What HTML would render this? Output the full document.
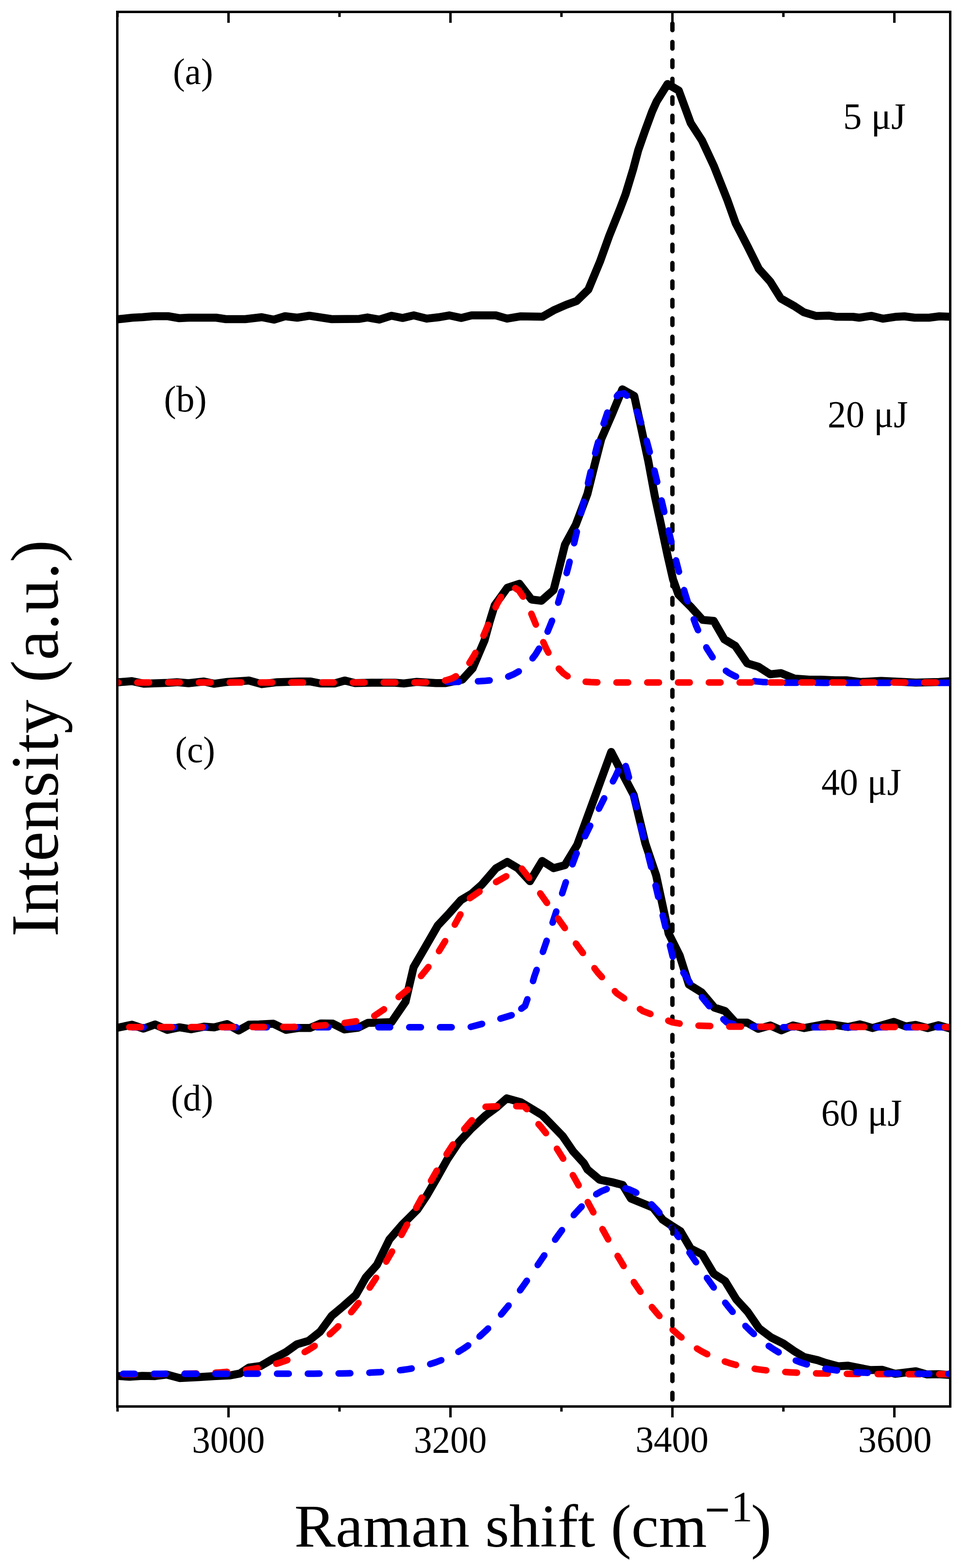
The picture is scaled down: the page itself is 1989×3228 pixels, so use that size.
<!DOCTYPE html>
<html><head><meta charset="utf-8"><title>Raman spectra</title><style>html,body{margin:0;padding:0;background:#fff;overflow:hidden}svg{display:block}</style></head><body>
<svg width="1989" height="3228" viewBox="0 0 1989 3228">
<rect width="1989" height="3228" fill="#fff"/>
<defs><clipPath id="cp"><rect x="244" y="27" width="1710" height="2866"/></clipPath></defs>
<g clip-path="url(#cp)">
<polyline points="241.0,657.5 273.0,654.0 293.0,653.0 316.0,651.0 346.0,651.0 369.0,655.0 389.0,654.0 445.0,654.0 465.0,657.0 505.0,657.0 539.0,653.0 564.0,658.0 587.0,651.0 612.0,654.0 637.0,650.0 683.0,657.0 740.0,656.4 756.5,653.6 781.0,657.9 806.0,650.0 829.0,654.6 852.0,649.3 879.0,655.9 902.0,653.3 925.0,649.3 950.0,654.6 971.0,649.3 1021.0,649.3 1044.0,655.9 1071.0,651.3 1117.0,652.0 1140.0,638.8 1165.7,627.5 1187.1,619.8 1211.5,596.0 1235.3,538.7 1254.3,485.8 1275.5,432.9 1288.0,400.0 1303.7,348.4 1314.3,308.7 1328.2,269.0 1342.8,229.4 1352.0,208.9 1374.5,173.0 1397.6,186.4 1422.1,253.2 1445.3,288.9 1470.0,342.0 1497.6,411.6 1514.8,459.7 1539.7,507.9 1562.4,553.5 1586.2,580.1 1607.7,614.5 1636.6,630.8 1655.0,642.9 1680.8,650.6 1707.7,649.8 1720.4,651.9 1756.4,652.3 1769.1,654.0 1794.5,650.2 1817.8,656.1 1843.2,652.3 1862.2,651.3 1883.4,654.0 1913.0,654.0 1934.2,651.3 1957.0,652.0" fill="none" stroke="#000" stroke-width="16.5" stroke-linejoin="round" stroke-linecap="round"/>
<polyline points="240.0,1404.9 271.7,1402.3 296.9,1407.6 345.8,1405.7 364.3,1404.4 388.1,1406.5 419.9,1403.0 441.0,1407.6 467.5,1403.9 512.5,1401.0 539.0,1408.4 570.7,1404.4 615.7,1403.0 638.5,1402.9 659.7,1407.0 688.8,1407.0 710.0,1401.0 731.0,1406.3 765.5,1405.5 813.0,1405.5 831.6,1407.0 858.0,1403.7 897.8,1406.3 916.3,1406.3 951.9,1399.1 973.1,1375.9 988.5,1339.8 997.6,1318.5 1008.3,1279.6 1018.5,1246.3 1044.4,1210.2 1069.4,1201.9 1094.4,1234.3 1114.8,1236.7 1139.8,1214.8 1148.6,1180.0 1163.2,1121.4 1185.6,1080.1 1209.6,1016.5 1224.3,957.1 1238.0,903.8 1260.4,852.2 1281.4,801.5 1306.0,815.3 1320.0,880.0 1335.0,950.0 1348.0,1020.0 1361.0,1080.0 1374.4,1143.0 1385.7,1192.4 1396.9,1223.9 1423.9,1250.9 1446.4,1276.1 1469.6,1278.3 1491.4,1316.1 1513.9,1329.6 1538.6,1365.6 1561.1,1372.3 1585.8,1388.1 1608.3,1385.8 1635.7,1396.9 1666.7,1399.3 1690.5,1399.3 1719.0,1400.5 1742.9,1400.5 1771.4,1404.0 1814.3,1401.7 1861.9,1404.0 1885.7,1405.2 1933.3,1404.0 1957.0,1402.4" fill="none" stroke="#000" stroke-width="16.5" stroke-linejoin="round" stroke-linecap="round"/>
<polyline points="240.0,2116.2 271.7,2109.6 295.6,2117.6 319.4,2109.1 344.5,2120.2 369.6,2114.9 393.4,2118.9 419.9,2113.6 441.0,2114.9 467.5,2108.3 491.3,2121.5 512.5,2109.6 533.7,2109.1 562.7,2107.5 589.2,2120.2 615.7,2116.2 638.0,2116.3 660.5,2106.9 685.2,2107.3 708.8,2119.2 736.9,2115.9 757.2,2105.8 806.2,2104.2 835.0,2062.0 851.6,1991.1 875.2,1950.6 901.3,1905.4 925.5,1879.6 949.3,1852.8 971.1,1839.9 991.9,1821.4 1021.1,1787.7 1044.5,1774.4 1066.3,1787.3 1091.2,1814.1 1116.3,1772.4 1139.8,1787.3 1163.1,1781.1 1188.5,1739.4 1211.3,1677.1 1233.5,1616.5 1258.5,1548.0 1277.0,1583.9 1304.8,1636.7 1328.9,1736.7 1351.1,1802.4 1367.8,1880.0 1376.7,1921.7 1399.5,1967.3 1418.4,2026.8 1444.2,2042.7 1471.0,2074.4 1492.8,2081.4 1514.6,2105.2 1538.4,2105.2 1561.2,2118.1 1586.0,2111.1 1608.8,2121.1 1632.7,2111.1 1656.0,2116.4 1703.2,2107.7 1745.9,2114.2 1770.7,2108.8 1796.5,2116.4 1840.4,2103.8 1865.1,2113.1 1885.3,2109.9 1910.1,2116.4 1932.6,2110.6 1957.0,2117.6" fill="none" stroke="#000" stroke-width="16.5" stroke-linejoin="round" stroke-linecap="round"/>
<polyline points="240.0,2832.4 266.5,2834.3 293.0,2832.4 319.4,2832.9 343.2,2829.8 369.6,2836.9 409.3,2835.1 441.0,2833.0 472.8,2831.6 494.0,2827.7 512.5,2815.5 536.3,2812.3 562.7,2797.0 587.8,2784.2 611.6,2767.3 635.4,2760.4 659.2,2741.5 683.0,2708.8 706.8,2689.0 732.6,2666.2 753.5,2629.4 776.3,2603.7 801.8,2551.7 827.6,2521.9 859.4,2490.2 879.2,2460.4 901.0,2422.7 920.9,2387.0 944.7,2351.3 970.5,2323.5 999.8,2296.4 1022.7,2279.5 1043.5,2261.1 1072.3,2269.2 1093.1,2281.5 1116.5,2295.8 1130.8,2310.3 1158.6,2339.0 1180.4,2370.8 1202.2,2394.6 1209.8,2407.8 1234.6,2428.6 1259.4,2433.6 1282.2,2439.5 1299.0,2467.3 1322.9,2477.2 1344.7,2486.2 1364.5,2511.0 1382.4,2522.9 1401.2,2534.8 1422.1,2570.5 1445.9,2582.4 1469.6,2622.3 1492.9,2637.1 1516.2,2675.2 1539.5,2700.6 1562.8,2734.5 1588.1,2753.5 1613.5,2766.2 1634.7,2781.1 1655.9,2793.8 1683.4,2800.1 1700.0,2805.8 1725.8,2812.7 1746.4,2811.5 1791.1,2820.4 1816.9,2820.1 1842.7,2828.2 1885.7,2823.0 1908.1,2829.4 1932.2,2829.0 1957.0,2830.7" fill="none" stroke="#000" stroke-width="16.5" stroke-linejoin="round" stroke-linecap="round"/>
<polyline points="236.0,2829.1 247.4,2829.1 258.8,2829.1 270.2,2829.0 281.6,2829.0 293.0,2828.9 304.4,2828.9 315.8,2828.8 327.2,2828.7 338.6,2828.6 350.0,2828.5 361.4,2828.3 372.8,2828.2 384.2,2828.0 395.6,2827.7 407.0,2827.4 418.4,2827.0 429.8,2826.6 441.2,2826.0 452.6,2825.4 464.0,2824.6 475.4,2823.7 486.8,2822.7 498.2,2821.4 509.6,2820.0 521.0,2818.2 532.4,2816.3 543.8,2814.0 555.2,2811.3 566.6,2808.2 578.0,2804.7 589.4,2800.8 600.8,2796.2 612.2,2791.1 623.6,2785.4 635.0,2779.0 646.4,2771.8 657.8,2763.9 669.2,2755.1 680.6,2745.4 692.0,2734.9 703.4,2723.4 714.8,2711.0 726.2,2697.7 737.6,2683.3 749.0,2668.0 760.4,2651.8 771.8,2634.7 783.2,2616.8 794.6,2598.1 806.0,2578.7 817.4,2558.7 828.8,2538.3 840.2,2517.5 851.6,2496.5 863.0,2475.4 874.4,2454.5 885.8,2433.9 897.2,2413.7 908.6,2394.2 920.0,2375.5 931.4,2357.9 942.8,2341.5 954.2,2326.5 965.6,2313.0 979.4,2297.7 1000.0,2278.5 1040.0,2277.0 1079.0,2277.5 1092.0,2291.0 1102.4,2307.0 1113.8,2319.7 1125.2,2334.0 1136.6,2349.7 1148.0,2366.8 1159.4,2385.0 1170.8,2404.1 1182.2,2423.9 1193.6,2444.3 1205.0,2465.1 1216.4,2486.1 1227.8,2507.1 1239.2,2528.0 1250.6,2548.6 1262.0,2568.8 1273.4,2588.4 1284.8,2607.4 1296.2,2625.7 1307.6,2643.2 1319.0,2659.8 1330.4,2675.5 1341.8,2690.3 1353.2,2704.1 1364.6,2716.9 1376.0,2728.8 1387.4,2739.8 1398.8,2749.9 1410.2,2759.0 1421.6,2767.4 1433.0,2774.9 1444.4,2781.7 1455.8,2787.7 1467.2,2793.2 1478.6,2798.0 1490.0,2802.2 1501.4,2805.9 1512.8,2809.2 1524.2,2812.1 1535.6,2814.5 1547.0,2816.7 1558.4,2818.6 1569.8,2820.1 1581.2,2821.5 1592.6,2822.7 1604.0,2823.7 1615.4,2824.5 1626.8,2825.2 1638.2,2825.8 1649.6,2826.3 1661.0,2826.7 1672.4,2827.1 1683.8,2827.4 1695.2,2827.6 1706.6,2827.8 1718.0,2828.0 1729.4,2828.2 1740.8,2828.3 1752.2,2828.4 1763.6,2828.5 1775.0,2828.5 1786.4,2828.6 1797.8,2828.7 1809.2,2828.7 1820.6,2828.8 1832.0,2828.8 1843.4,2828.8 1854.8,2828.9 1866.2,2828.9 1877.6,2828.9 1889.0,2828.9 1900.4,2829.0 1911.8,2829.0 1923.2,2829.0 1934.6,2829.0 1946.0,2829.1 1957.4,2829.1" fill="none" stroke="#ff0000" stroke-width="13.5" stroke-linejoin="round" stroke-linecap="round" stroke-dasharray="24.0 39.40" stroke-dashoffset="45.85"/>
<polyline points="236.0,2828.2 247.4,2828.2 258.8,2828.2 270.2,2828.2 281.6,2828.2 293.0,2828.2 304.4,2828.2 315.8,2828.2 327.2,2828.2 338.6,2828.2 350.0,2828.2 361.4,2828.2 372.8,2828.2 384.2,2828.2 395.6,2828.2 407.0,2828.2 418.4,2828.2 429.8,2828.2 441.2,2828.2 452.6,2828.2 464.0,2828.2 475.4,2828.2 486.8,2828.2 498.2,2828.2 509.6,2828.1 521.0,2828.1 532.4,2828.1 543.8,2828.1 555.2,2828.1 566.6,2828.1 578.0,2828.1 589.4,2828.1 600.8,2828.0 612.2,2828.0 623.6,2828.0 635.0,2827.9 646.4,2827.9 657.8,2827.8 669.2,2827.8 680.6,2827.7 692.0,2827.5 703.4,2827.4 714.8,2827.2 726.2,2827.0 737.6,2826.7 749.0,2826.3 760.4,2825.9 771.8,2825.3 783.2,2824.7 794.6,2823.8 806.0,2822.9 817.4,2821.7 828.8,2820.2 840.2,2818.6 851.6,2816.6 863.0,2814.2 874.4,2811.4 885.8,2808.2 897.2,2804.5 908.6,2800.2 920.0,2795.4 931.4,2789.8 942.8,2783.6 954.2,2776.6 965.6,2768.7 976.0,2760.8" fill="none" stroke="#0000ff" stroke-width="13.5" stroke-linejoin="round" stroke-linecap="round" stroke-dasharray="24.0 39.40" stroke-dashoffset="45.93"/>
<polyline points="976.0,2760.8 977.0,2760.1 988.4,2750.5 999.8,2740.1 1011.2,2728.8 1022.6,2716.7 1034.0,2703.6 1045.4,2689.8 1056.8,2675.2 1068.2,2660.0 1079.6,2644.1 1091.0,2627.9 1102.4,2611.3 1113.8,2594.5 1125.2,2577.8 1136.6,2561.2 1148.0,2545.0 1159.4,2529.4 1170.8,2514.5 1182.2,2500.6 1193.6,2487.9 1205.0,2476.5 1216.4,2466.6 1227.8,2458.4 1239.2,2451.9 1250.6,2447.3 1262.0,2444.7 1273.4,2444.1 1284.8,2445.5 1296.2,2448.8 1307.6,2453.9 1319.0,2460.9 1330.4,2469.6 1341.8,2479.8 1353.2,2491.5 1364.6,2504.4 1376.0,2518.4 1387.4,2533.3 1398.8,2548.9 1410.2,2565.1 1421.6,2581.5 1433.0,2598.2 1444.4,2614.7 1455.8,2631.1 1467.2,2647.2 1478.6,2662.8 1490.0,2677.8 1501.4,2692.2 1512.8,2705.8 1524.2,2718.6 1535.6,2730.5 1547.0,2741.6 1558.4,2751.9 1569.8,2761.3 1581.2,2769.8 1592.6,2777.5 1604.0,2784.4 1615.4,2790.6 1626.8,2796.0 1638.2,2800.8 1649.6,2805.1 1661.0,2808.7 1672.4,2811.9 1683.8,2814.6 1695.2,2817.0 1706.6,2819.0 1718.0,2820.6 1729.4,2822.1 1740.8,2823.2 1752.2,2824.2 1763.6,2825.0 1775.0,2825.7 1786.4,2826.2 1797.8,2826.7 1809.2,2827.0 1820.6,2827.3 1832.0,2827.5 1843.4,2827.7 1854.8,2827.9 1866.2,2828.0 1877.6,2828.1 1889.0,2828.1 1900.4,2828.2 1911.8,2828.2 1923.2,2828.3 1934.6,2828.3 1946.0,2828.3 1957.4,2828.3" fill="none" stroke="#0000ff" stroke-width="13.5" stroke-linejoin="round" stroke-linecap="round" stroke-dasharray="24.0 39.40" stroke-dashoffset="48.56"/>
<line x1="1384.5" y1="48.5" x2="1384.5" y2="745" stroke="#000" stroke-width="9" stroke-linecap="round" stroke-dasharray="13.6 24.33"/>
<line x1="1384.5" y1="738.4" x2="1384.5" y2="1462.4" stroke="#000" stroke-width="9" stroke-linecap="round" stroke-dasharray="13.6 24.30"/>
<line x1="1384.5" y1="1486.5" x2="1384.5" y2="2174.3" stroke="#000" stroke-width="9" stroke-linecap="round" stroke-dasharray="13.6 24.30"/>
<line x1="1384.5" y1="2184.4" x2="1384.5" y2="2881.3" stroke="#000" stroke-width="9" stroke-linecap="round" stroke-dasharray="13.6 24.35"/>
<polyline points="920.8,1404.0 931.4,1403.9 942.8,1403.7 954.2,1403.5 965.6,1403.2 977.0,1402.8 988.4,1402.3 999.8,1401.5 1011.2,1400.4 1022.6,1398.8 1034.0,1396.5 1045.4,1393.2 1056.8,1388.6 1068.2,1382.2 1079.6,1373.7 1091.0,1362.4 1102.4,1347.7 1113.8,1329.1 1125.2,1306.0 1136.6,1278.1 1148.0,1245.1 1159.4,1207.1 1170.8,1164.5 1182.2,1118.2 1193.6,1069.2 1205.0,1019.1 1216.4,970.0 1227.8,923.8 1239.2,882.9 1250.6,849.3 1262.0,825.1 1273.4,811.7 1284.8,809.8 1296.2,818.9 1307.6,838.3 1319.0,866.9 1330.4,903.3 1341.8,945.6 1353.2,992.0 1364.6,1040.4 1376.0,1089.0 1387.4,1136.0 1398.8,1180.2 1410.2,1220.6 1421.6,1256.4 1433.0,1287.5 1444.4,1313.8 1455.8,1335.5 1467.2,1353.1 1478.6,1367.0 1490.0,1377.7 1501.4,1385.8 1512.8,1391.8 1524.2,1396.2 1535.6,1399.3 1547.0,1401.5 1558.4,1402.9 1569.8,1403.9 1581.2,1404.6 1592.6,1405.0 1604.0,1405.3 1615.4,1405.4 1626.8,1405.5 1638.2,1405.6 1649.6,1405.6 1661.0,1405.6 1672.4,1405.6 1683.8,1405.6 1695.2,1405.7 1706.6,1405.7 1718.0,1405.7 1729.4,1405.7 1740.8,1405.7 1752.2,1405.7 1763.6,1405.7 1775.0,1405.7 1786.4,1405.7 1797.8,1405.7 1809.2,1405.7 1820.6,1405.7 1832.0,1405.7 1843.4,1405.7 1854.8,1405.7 1866.2,1405.7 1877.6,1405.7 1889.0,1405.7 1900.4,1405.7 1911.8,1405.7 1923.2,1405.7 1934.6,1405.7 1946.0,1405.7 1957.4,1405.7" fill="none" stroke="#0000ff" stroke-width="13.5" stroke-linejoin="round" stroke-linecap="round" stroke-dasharray="24.0 39.40" stroke-dashoffset="0.00"/>
<polyline points="236.0,1405.0 247.4,1405.0 258.8,1405.0 270.2,1405.0 281.6,1405.0 293.0,1405.0 304.4,1405.0 315.8,1405.0 327.2,1405.0 338.6,1405.0 350.0,1405.0 361.4,1405.0 372.8,1405.0 384.2,1405.0 395.6,1405.0 407.0,1405.0 418.4,1405.0 429.8,1405.0 441.2,1405.0 452.6,1405.0 464.0,1405.0 475.4,1405.0 486.8,1405.0 498.2,1405.0 509.6,1405.0 521.0,1405.0 532.4,1405.0 543.8,1405.0 555.2,1405.0 566.6,1405.0 578.0,1405.0 589.4,1405.0 600.8,1405.0 612.2,1405.0 623.6,1405.0 635.0,1405.0 646.4,1405.0 657.8,1405.0 669.2,1405.0 680.6,1405.0 692.0,1405.0 703.4,1405.0 714.8,1405.0 726.2,1405.0 737.6,1405.0 749.0,1405.0 760.4,1405.0 771.8,1405.0 783.2,1405.0 794.6,1405.0 806.0,1405.0 817.4,1405.0 828.8,1405.0 840.2,1405.0 851.6,1405.0 863.0,1404.9 874.4,1404.8 885.8,1404.4 897.2,1403.8 908.6,1402.5 920.0,1400.2 931.4,1396.3 942.8,1389.9 954.2,1380.2 965.6,1366.3 977.0,1347.8 988.4,1324.8 999.8,1298.6 1011.2,1271.0 1022.6,1245.2 1034.0,1224.2 1045.4,1211.2 1056.8,1208.1 1068.2,1215.5 1079.6,1232.3 1091.0,1256.1 1102.4,1283.5 1113.8,1311.1 1125.2,1336.3 1136.6,1357.5 1148.0,1373.8 1159.4,1385.7 1170.8,1393.7 1182.2,1398.7 1193.6,1401.7 1205.0,1403.4 1216.4,1404.2 1227.8,1404.7 1239.2,1404.9 1250.6,1405.0 1262.0,1405.0 1273.4,1405.0 1284.8,1405.0 1296.2,1405.0 1307.6,1405.0 1319.0,1405.0 1330.4,1405.0 1341.8,1405.0 1353.2,1405.0 1364.6,1405.0 1376.0,1405.0 1387.4,1405.0 1398.8,1405.0 1410.2,1405.0 1421.6,1405.0 1433.0,1405.0 1444.4,1405.0 1455.8,1405.0 1467.2,1405.0 1478.6,1405.0 1490.0,1405.0 1501.4,1405.0 1512.8,1405.0 1524.2,1405.0 1535.6,1405.0 1547.0,1405.0 1558.4,1405.0 1569.8,1405.0 1581.2,1405.0 1592.6,1405.0 1604.0,1405.0 1615.4,1405.0 1626.8,1405.0 1638.2,1405.0 1649.6,1405.0 1661.0,1405.0 1672.4,1405.0 1683.8,1405.0 1695.2,1405.0 1706.6,1405.0 1718.0,1405.0 1729.4,1405.0 1740.8,1405.0 1752.2,1405.0 1763.6,1405.0 1775.0,1405.0 1786.4,1405.0 1797.8,1405.0 1809.2,1405.0 1820.6,1405.0 1832.0,1405.0 1843.4,1405.0 1854.8,1405.0 1866.2,1405.0 1877.6,1405.0 1889.0,1405.0 1900.4,1405.0 1911.8,1405.0 1923.2,1405.0 1934.6,1405.0 1946.0,1405.0 1957.4,1405.0" fill="none" stroke="#ff0000" stroke-width="13.5" stroke-linejoin="round" stroke-linecap="round" stroke-dasharray="24.0 39.40" stroke-dashoffset="16.58"/>
<polyline points="236.0,2114.7 900.0,2114.8 935.0,2114.8 966.7,2114.6 993.7,2107.6 1027.0,2098.0 1055.6,2089.4 1063.5,2083.7" fill="none" stroke="#0000ff" stroke-width="13.5" stroke-linejoin="round" stroke-linecap="round" stroke-dasharray="24.0 39.40" stroke-dashoffset="27.37"/>
<polyline points="1063.5,2083.7 1081.0,2071.0 1090.5,2044.0 1100.0,2010.8 1109.5,1983.8 1125.4,1937.4 1145.5,1876.0 1165.0,1816.3 1186.3,1758.9 1214.4,1701.5 1243.7,1644.1 1267.7,1597.5 1277.5,1576.3 1284.0,1564.0 1291.0,1585.3 1297.5,1609.7 1306.5,1647.2 1312.2,1671.7 1321.1,1709.1 1327.6,1732.8 1340.4,1783.0 1355.2,1845.9 1367.0,1895.0 1385.0,1969.0 1420.0,2022.0 1460.0,2071.0 1496.7,2105.0 1530.5,2113.0 1600.0,2114.7 1962.0,2114.7" fill="none" stroke="#0000ff" stroke-width="13.5" stroke-linejoin="round" stroke-linecap="round" stroke-dasharray="24.0 39.40" stroke-dashoffset="51.11"/>
<polyline points="236.0,2114.5 600.0,2114.3 647.0,2112.2 680.7,2109.6 708.8,2106.0 742.6,2101.2 766.2,2094.4 790.9,2077.7 813.4,2058.5 841.5,2035.7 860.0,2017.9 884.6,1987.5 899.0,1966.0 917.4,1936.1 931.8,1911.8 950.2,1878.4 962.5,1852.6 989.2,1834.1 1015.8,1819.0 1044.5,1802.7 1072.0,1785.0 1092.1,1810.8 1111.2,1837.6 1127.9,1861.1 1156.1,1901.0 1192.1,1951.2 1231.2,2002.7 1270.4,2045.2 1324.3,2081.8 1384.7,2104.6 1420.0,2110.8 1500.0,2113.5 1962.0,2114.5" fill="none" stroke="#ff0000" stroke-width="13.5" stroke-linejoin="round" stroke-linecap="round" stroke-dasharray="24.0 39.40" stroke-dashoffset="33.20"/>
</g>
<rect x="241.5" y="24.5" width="1715" height="2871" fill="none" stroke="#000" stroke-width="5"/>
<line x1="242.0" y1="2898" x2="242.0" y2="2906" stroke="#000" stroke-width="5"/>
<line x1="242.0" y1="27" x2="242.0" y2="35" stroke="#000" stroke-width="5"/>
<line x1="470.5" y1="2898" x2="470.5" y2="2918" stroke="#000" stroke-width="5"/>
<line x1="470.5" y1="27" x2="470.5" y2="47" stroke="#000" stroke-width="5"/>
<line x1="699.0" y1="2898" x2="699.0" y2="2906" stroke="#000" stroke-width="5"/>
<line x1="699.0" y1="27" x2="699.0" y2="35" stroke="#000" stroke-width="5"/>
<line x1="927.5" y1="2898" x2="927.5" y2="2918" stroke="#000" stroke-width="5"/>
<line x1="927.5" y1="27" x2="927.5" y2="47" stroke="#000" stroke-width="5"/>
<line x1="1156.0" y1="2898" x2="1156.0" y2="2906" stroke="#000" stroke-width="5"/>
<line x1="1156.0" y1="27" x2="1156.0" y2="35" stroke="#000" stroke-width="5"/>
<line x1="1384.5" y1="2898" x2="1384.5" y2="2918" stroke="#000" stroke-width="5"/>
<line x1="1384.5" y1="27" x2="1384.5" y2="47" stroke="#000" stroke-width="5"/>
<line x1="1613.0" y1="2898" x2="1613.0" y2="2906" stroke="#000" stroke-width="5"/>
<line x1="1613.0" y1="27" x2="1613.0" y2="35" stroke="#000" stroke-width="5"/>
<line x1="1841.5" y1="2898" x2="1841.5" y2="2918" stroke="#000" stroke-width="5"/>
<line x1="1841.5" y1="27" x2="1841.5" y2="47" stroke="#000" stroke-width="5"/>
<text transform="translate(356.02,173.01) scale(0.7456,0.7567)" font-family="Liberation Serif, 'Times New Roman', serif" font-size="100">(a)</text>
<text transform="translate(337.58,847.09) scale(0.7546,0.7578)" font-family="Liberation Serif, 'Times New Roman', serif" font-size="100">(b)</text>
<text transform="translate(360.53,1568.83) scale(0.7427,0.7556)" font-family="Liberation Serif, 'Times New Roman', serif" font-size="100">(c)</text>
<text transform="translate(351.90,2286.11) scale(0.7491,0.7567)" font-family="Liberation Serif, 'Times New Roman', serif" font-size="100">(d)</text>
<text transform="translate(1735.98,265.48) scale(0.7692,0.7628)" font-family="Liberation Serif, 'Times New Roman', serif" font-size="100">5 μJ</text>
<text transform="translate(1703.95,878.54) scale(0.7621,0.7744)" font-family="Liberation Serif, 'Times New Roman', serif" font-size="100">20 μJ</text>
<text transform="translate(1691.29,1636.41) scale(0.7568,0.7756)" font-family="Liberation Serif, 'Times New Roman', serif" font-size="100">40 μJ</text>
<text transform="translate(1690.84,2317.31) scale(0.7649,0.7756)" font-family="Liberation Serif, 'Times New Roman', serif" font-size="100">60 μJ</text>
<text transform="translate(395.25,2989.64) scale(0.7508,0.7791)" font-family="Liberation Serif, 'Times New Roman', serif" font-size="100">3000</text>
<text transform="translate(852.05,2989.64) scale(0.7508,0.7791)" font-family="Liberation Serif, 'Times New Roman', serif" font-size="100">3200</text>
<text transform="translate(1308.44,2989.07) scale(0.7518,0.7627)" font-family="Liberation Serif, 'Times New Roman', serif" font-size="100">3400</text>
<text transform="translate(1766.71,2989.07) scale(0.7586,0.7627)" font-family="Liberation Serif, 'Times New Roman', serif" font-size="100">3600</text>
<text transform="translate(606.08,3184.37) scale(1.2746,1.2587)" font-family="Liberation Serif, 'Times New Roman', serif" font-size="100">Raman shift (cm<tspan x="663.9" y="-37.0" font-size="70" stroke="#000" stroke-width="1.2">−</tspan><tspan x="705.5" y="-42.6" font-size="70">1</tspan><tspan x="737.7" y="0" font-size="100">)</tspan></text>
<text transform="translate(118.89,1928.48) rotate(-90) scale(1.3946,1.3956)" font-family="Liberation Serif, 'Times New Roman', serif" font-size="100">Intensity (a.u.)</text>
</svg>
</body></html>
